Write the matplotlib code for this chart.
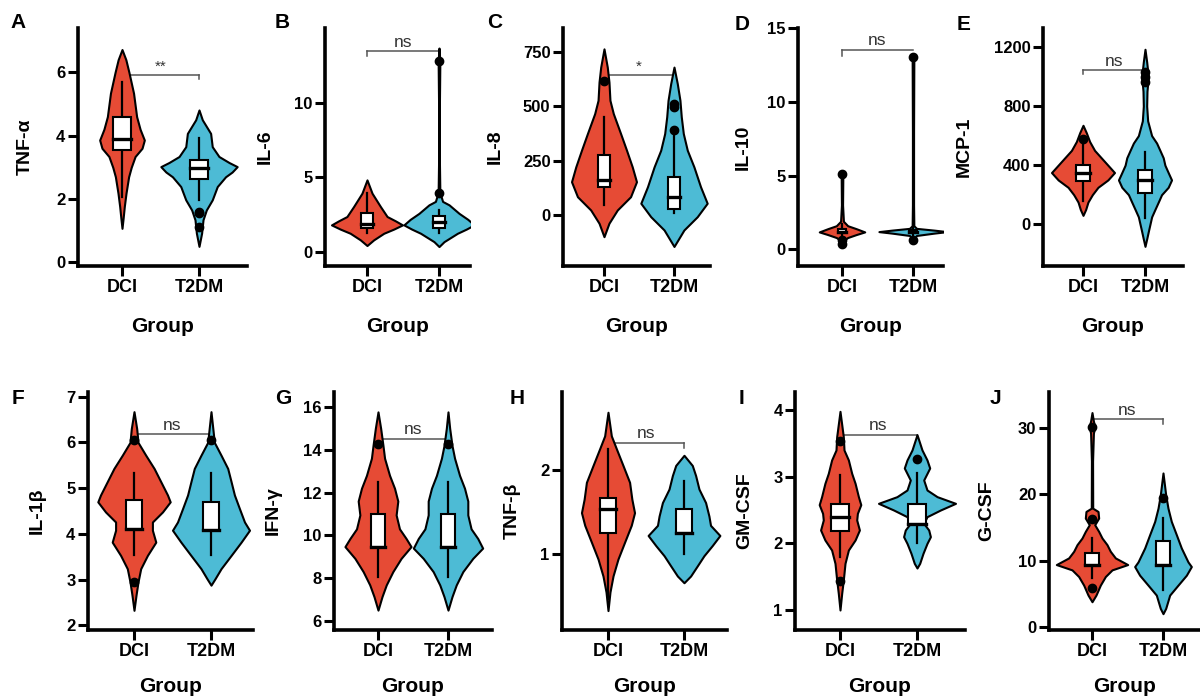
import matplotlib
matplotlib.use('Agg')
import matplotlib.pyplot as plt
from matplotlib.patches import Rectangle

plt.rcParams['font.family'] = ['Liberation Sans', 'DejaVu Sans']
plt.rcParams['font.weight'] = 'bold'

groups = ['DCI', 'T2DM']
colors = ['#E64B35', '#4DBBD5']

# ---- A: TNF-alpha
tnfa_dci_y = [6.72, 6.4, 6.0, 5.34, 4.6, 4.2, 3.86, 3.6, 3.34, 3.0, 2.7, 2.18, 1.76, 1.4, 1.07]
tnfa_dci_w = [0, .05, .09, .15, .19, .235, .29, .26, .17, .12, .086, .052, .03, .015, 0]
tnfa_t2_y = [4.81, 4.5, 4.07, 3.65, 3.34, 3.15, 3.02, 2.85, 2.7, 2.39, 1.97, 1.65, 1.34, 0.92, 0.5]
tnfa_t2_w = [0, .043, .151, .172, .259, .39, .496, .43, .345, .237, .172, .095, .052, .034, 0]
tnfa_box = [[2.07, 3.55, 3.88, 4.58, 5.7], [1.97, 2.62, 2.97, 3.23, 3.92]]  # wlo, q1, med, q3, whi
tnfa_out = [[], [1.6, 1.55, 1.12]]

# ---- B: IL-6
il6_dci_y = [4.84, 3.95, 3.06, 2.39, 2.1, 1.83, 1.55, 1.27, 0.83, 0.45]
il6_dci_w = [0, .07, .186, .279, .395, .493, .372, .233, .093, 0]
il6_t2_y = [13.66, 12.8, 10, 6, 4.0, 3.4, 3.17, 2.6, 2.2, 1.83, 1.55, 1.27, 0.71, 0.38]
il6_t2_w = [0, .012, .006, .006, .012, .05, .14, .279, .4, .488, .38, .256, .07, 0]
il6_box = [[1.27, 1.6, 1.9, 2.6, 3.95], [1.27, 1.6, 2.05, 2.43, 2.83]]
il6_out = [[], [12.77, 3.95]]

# ---- C: IL-8
il8_dci_y = [765, 681, 612, 528, 467, 375, 298, 222, 153, 84, 23, -38, -100]
il8_dci_w = [0, .047, .071, .085, .133, .237, .322, .403, .464, .379, .19, .071, 0]
il8_t2_y = [681, 605, 528, 452, 375, 298, 222, 130, 54, -8, -69, -145]
il8_t2_w = [0, .047, .085, .104, .133, .19, .284, .379, .474, .332, .142, 0]
il8_box = [[46, 130, 161, 276, 452], [8, 26, 84, 176, 380]]
il8_out = [[615], [510, 495, 390]]

# ---- D: IL-10
il10_dci_y = [5.3, 5.1, 3.0, 1.9, 1.6, 1.4, 1.18, 1.0, 0.8, 0.6, 0.4]
il10_dci_w = [0, .012, .008, .02, .08, .2, .32, .2, .08, .02, 0]
il10_t2_y = [13.2, 13.05, 8, 3, 1.6, 1.42, 1.3, 1.2, 1.1, 0.94, 0.7]
il10_t2_w = [0, .012, .008, .008, .012, .05, .3, .48, .3, .05, 0]
il10_box = [[0.7, 1.1, 1.2, 1.35, 1.7], [0.9, 1.1, 1.2, 1.3, 1.45]]
il10_out = [[5.1, 0.6, 0.37], [13.05, 0.66]]

# ---- E: MCP-1
mcp1_dci_y = [670, 620, 560, 500, 450, 400, 350, 300, 250, 200, 150, 100, 60]
mcp1_dci_w = [0, .053, .107, .187, .294, .401, .508, .401, .241, .15, .08, .043, 0]
mcp1_t2_y = [1185, 1100, 1000, 900, 800, 700, 600, 550, 500, 450, 400, 350, 300, 250,
             200, 150, 100, 50, 0, -50, -100, -150]
mcp1_t2_w = [0, .027, .053, .032, .027, .043, .107, .187, .241, .294, .321, .374, .428, .374,
             .267, .214, .16, .107, .08, .053, .027, 0]
mcp1_box = [[160, 290, 345, 400, 560], [40, 210, 300, 370, 490]]
mcp1_out = [[575], [1030, 1000, 960]]

# ---- F: IL-1beta
il1b_dci_y = [6.67, 6.3, 6.0, 5.72, 5.43, 5.14, 4.85, 4.7, 4.48, 4.26, 4.08, 3.82, 3.53, 3.24, 2.95, 2.66, 2.33]
il1b_dci_w = [0, .035, .052, .152, .261, .348, .435, .47, .37, .239, .239, .283, .174, .087, .052, .026, 0]
il1b_t2_y = [6.67, 6.0, 5.72, 5.43, 5.14, 4.85, 4.55, 4.26, 4.08, 3.82, 3.53, 3.24, 3.02, 2.88]
il1b_t2_w = [0, .043, .13, .217, .261, .304, .37, .435, .5, .391, .261, .13, .052, 0]
il1b_box = [[3.53, 4.1, 4.1, 4.74, 5.32], [3.53, 4.08, 4.08, 4.7, 5.32]]
il1b_out = [[6.05, 2.95], [6.05]]

# ---- G: IFN-gamma
ifng_dci_y = [15.77, 15.0, 14.2, 13.6, 12.8, 12.2, 11.6, 10.95, 10.3, 9.85, 9.47, 8.92, 8.3, 7.68, 7.13, 6.5]
ifng_dci_w = [0, .038, .071, .094, .165, .236, .283, .259, .307, .401, .472, .33, .212, .118, .057, 0]
ifng_t2_y = [15.77, 15.0, 14.2, 13.6, 12.8, 12.2, 11.6, 10.95, 10.3, 9.85, 9.4, 8.92, 8.3, 7.68, 7.13, 6.5]
ifng_t2_w = [0, .024, .057, .094, .165, .236, .283, .283, .33, .425, .495, .354, .212, .118, .057, 0]
ifng_box = [[8.07, 9.47, 9.47, 11.0, 12.5], [8.07, 9.47, 9.47, 11.0, 12.5]]
ifng_out = [[14.25], [14.25]]

# ---- H: TNF-beta
tnfb_dci_y = [2.68, 2.4, 2.25, 2.05, 1.85, 1.65, 1.49, 1.34, 1.14, 0.94, 0.74, 0.55, 0.33]
tnfb_dci_w = [0, .044, .109, .197, .284, .314, .349, .306, .218, .131, .066, .026, 0]
tnfb_t2_y = [2.17, 2.05, 1.93, 1.77, 1.61, 1.45, 1.34, 1.22, 1.1, 0.98, 0.86, 0.74, 0.66]
tnfb_t2_w = [0, .109, .153, .197, .284, .328, .349, .472, .371, .262, .175, .087, 0]
tnfb_box = [[0.47, 1.25, 1.53, 1.66, 2.24], [1.0, 1.25, 1.25, 1.53, 1.87]]
tnfb_out = [[], []]

# ---- I: GM-CSF
gmcsf_dci_y = [3.98, 3.6, 3.4, 3.25, 3.05, 2.9, 2.7, 2.58, 2.45, 2.35, 2.2, 2.05, 1.9, 1.7, 1.45, 1.25, 1.0]
gmcsf_dci_w = [0, .043, .052, .109, .152, .196, .239, .27, .226, .217, .252, .196, .109, .065, .043, .022, 0]
gmcsf_t2_y = [3.63, 3.4, 3.25, 3.13, 2.95, 2.8, 2.7, 2.6, 2.5, 2.4, 2.3, 2.2, 2.1, 2.0, 1.85, 1.7, 1.63]
gmcsf_t2_w = [0, .065, .13, .165, .087, .13, .261, .5, .304, .13, .087, .152, .174, .13, .078, .035, 0]
gmcsf_box = [[1.8, 2.18, 2.39, 2.59, 3.03], [2.0, 2.29, 2.29, 2.59, 3.05]]
gmcsf_out = [[3.53, 1.43], [3.27]]

# ---- J: G-CSF
gcsf_dci_y = [32.3, 31.0, 30.2, 29.2, 25, 17.9, 17.4, 16.4, 15.4, 14.4, 13.4, 12.4, 11.4, 10.4, 9.4, 8.6, 7.6, 6.3, 4.8, 3.8]
gcsf_dci_w = [0, .02, .04, .02, .008, .01, .085, .094, .038, .094, .141, .211, .258, .329, .502, .282, .188, .117, .056, 0]
gcsf_t2_y = [23.2, 19.9, 17.9, 15.9, 13.9, 11.9, 9.8, 9.1, 7.8, 6.3, 4.8, 2.8, 2.0]
gcsf_t2_w = [0, .038, .07, .117, .188, .258, .352, .399, .329, .211, .094, .038, 0]
gcsf_box = [[7.3, 9.3, 9.3, 11.1, 13.4], [5.6, 9.4, 9.4, 12.9, 16.4]]
gcsf_out = [[30.2, 16.2, 5.8], [19.5]]

# significance: text, bar level, (which end drops, drop-to level)
sig_text = ['**', 'ns', '*', 'ns', 'ns', 'ns', 'ns', 'ns', 'ns', 'ns']
sig_level = [5.92, 13.44, 643, 13.53, 1043, 6.18, 14.52, 2.32, 3.63, 31.3]
sig_drop = [(1, 5.78), (0, 13.1), (1, 628), (0, 13.08), (0, 1020), None, None, (1, 2.26), (1, 3.55), (1, 30.6)]

letters = ['A', 'B', 'C', 'D', 'E', 'F', 'G', 'H', 'I', 'J']
ylabels = ['TNF-α', 'IL-6', 'IL-8', 'IL-10', 'MCP-1', 'IL-1β', 'IFN-γ', 'TNF-β', 'GM-CSF', 'G-CSF']
yticks = [[0, 2, 4, 6], [0, 5, 10], [0, 250, 500, 750], [0, 5, 10, 15], [0, 400, 800, 1200],
          [2, 3, 4, 5, 6, 7], [6, 8, 10, 12, 14, 16], [1, 2], [1, 2, 3, 4], [0, 10, 20, 30]]
ylims = [(-0.12, 7.4), (-0.92, 15.0), (-235, 861), (-1.13, 15.0), (-283, 1329),
         (1.9, 7.1), (5.57, 16.7), (0.1, 2.92), (0.7, 4.27), (-0.46, 35.4)]

violins = [
    (tnfa_dci_y, tnfa_dci_w, tnfa_t2_y, tnfa_t2_w, tnfa_box, tnfa_out),
    (il6_dci_y, il6_dci_w, il6_t2_y, il6_t2_w, il6_box, il6_out),
    (il8_dci_y, il8_dci_w, il8_t2_y, il8_t2_w, il8_box, il8_out),
    (il10_dci_y, il10_dci_w, il10_t2_y, il10_t2_w, il10_box, il10_out),
    (mcp1_dci_y, mcp1_dci_w, mcp1_t2_y, mcp1_t2_w, mcp1_box, mcp1_out),
    (il1b_dci_y, il1b_dci_w, il1b_t2_y, il1b_t2_w, il1b_box, il1b_out),
    (ifng_dci_y, ifng_dci_w, ifng_t2_y, ifng_t2_w, ifng_box, ifng_out),
    (tnfb_dci_y, tnfb_dci_w, tnfb_t2_y, tnfb_t2_w, tnfb_box, tnfb_out),
    (gmcsf_dci_y, gmcsf_dci_w, gmcsf_t2_y, gmcsf_t2_w, gmcsf_box, gmcsf_out),
    (gcsf_dci_y, gcsf_dci_w, gcsf_t2_y, gcsf_t2_w, gcsf_box, gcsf_out),
]

# layout in pixels: axes (left, top, right, bottom), category x px, ylabel x, letter pos
W, H = 1200, 698
axes_px = [(78, 28, 247, 266), (325, 28, 470, 266), (563, 28, 710, 266), (798, 28, 943, 266),
           (1043, 28, 1183, 266), (88, 392, 253, 630), (334, 392, 492, 630), (562, 392, 727, 630),
           (795, 392, 965, 630), (1049, 392, 1200, 630)]
cat_px = [(122, 199), (367, 439), (604, 674), (842, 913), (1083, 1145),
          (134, 211), (378, 448), (608, 684), (840, 917), (1092, 1163)]
ylab_px = [25, 265, 495, 743, 964, 37, 273, 512, 745, 987]
letter_px = [(18, 23), (282, 23), (495, 23), (742, 24), (964, 24),
             (18, 398), (283, 398), (517, 398), (742, 398), (995, 398)]
box_hw = [.115, .085, .09, .06, .12, .1, .095, .1, .115, .094]
group_y = [327, 327, 327, 327, 327, 687, 687, 687, 687, 687]

fig = plt.figure(figsize=(W / 100, H / 100), dpi=100)


def draw_box(ax, pos, stats, hw, med_lw=2.4):
    wlo, q1, med, q3, whi = stats
    ax.plot([pos, pos], [wlo, q1], color='black', lw=1.6, zorder=3)
    ax.plot([pos, pos], [q3, whi], color='black', lw=1.6, zorder=3)
    ax.add_patch(Rectangle((pos - hw, q1), 2 * hw, q3 - q1, facecolor='white',
                           edgecolor='black', lw=1.5, zorder=4))
    ax.plot([pos - hw, pos + hw], [med, med], color='black', lw=med_lw, zorder=5)


for i in range(10):
    L, T, R, B = axes_px[i]
    ax = fig.add_axes([L / W, 1 - B / H, (R - L) / W, (B - T) / H])
    d, t = cat_px[i]
    sp = t - d
    ax.set_xlim((L - d) / sp, (R - d) / sp)
    ax.set_ylim(*ylims[i])

    dy, dw, ty, tw, box, outs = violins[i]
    for pos, yy, ww, col in [(0, dy, dw, colors[0]), (1, ty, tw, colors[1])]:
        ax.fill_betweenx(yy, [pos - w for w in ww], [pos + w for w in ww],
                         facecolor=col, edgecolor='black', lw=1.5, joinstyle='round', zorder=2)
    for pos in (0, 1):
        draw_box(ax, pos, box[pos], box_hw[i])
        if outs[pos]:
            ax.plot([pos] * len(outs[pos]), outs[pos], 'o', color='black', ms=6, zorder=6)

    # significance bracket
    lvl = sig_level[i]
    ax.plot([0, 1], [lvl, lvl], color='#555555', lw=1.1, zorder=1)
    if sig_drop[i] is not None:
        side, end = sig_drop[i]
        ax.plot([side, side], [lvl, end], color='#555555', lw=1.1, zorder=1)
    ax.annotate(sig_text[i], (0.5, lvl), xytext=(0, 1), textcoords='offset points',
                ha='center', va='bottom', fontsize=12.5 if sig_text[i] == 'ns' else 11,
                fontweight='normal', color='#333333')

    ax.set_xticks([0, 1])
    ax.set_xticklabels(groups)
    ax.set_yticks(yticks[i])
    ax.tick_params(axis='x', length=7, width=2.2, labelsize=13, pad=2)
    ax.tick_params(axis='y', length=7, width=2.2, labelsize=12, pad=2)
    for s in ['top', 'right']:
        ax.spines[s].set_visible(False)
    for s in ['left', 'bottom']:
        ax.spines[s].set_linewidth(2.6)

    ax.set_ylabel(ylabels[i], fontsize=14, fontweight='bold')
    ax.yaxis.set_label_coords((ylab_px[i] - L) / (R - L), 0.5)
    ax.yaxis.label.set_va('center')
    ax.set_xlabel('Group', fontsize=15, fontweight='bold')
    ax.xaxis.set_label_coords(0.5, -(group_y[i] - B) / (B - T))
    ax.xaxis.label.set_va('center')

    lx, ly = letter_px[i]
    fig.text(lx / W, 1 - ly / H, letters[i], fontsize=15, fontweight='bold',
             ha='center', va='center')

fig.savefig('out.png', dpi=100)
